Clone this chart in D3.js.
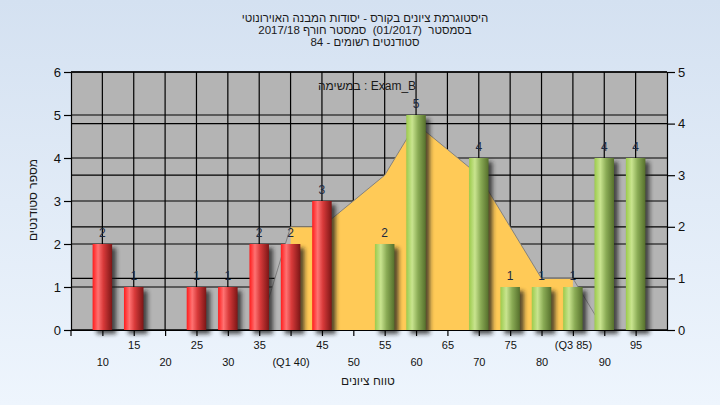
<!DOCTYPE html>
<html><head><meta charset="utf-8">
<script src="https://cdn.jsdelivr.net/npm/d3@7"></script>
<style>
html,body{margin:0;padding:0;}
svg{display:block;font-family:"Liberation Sans","DejaVu Sans",Arial,sans-serif;}
</style></head>
<body>
<svg id="c" width="720" height="405"></svg>
<script>
const categories = [10,15,20,25,30,35,40,45,50,55,60,65,70,75,80,85,90,95];
const counts     = [2,1,0,1,1,2,2,3,0,2,5,0,4,1,1,1,4,4];
const tickLabels = ["10","15","20","25","30","35","(Q1 40)","45","50","55","60","65","70","75","80","(Q3 85)","90","95"];
const curveX = [35,40,45,50,55,60,65,70,75,80,85,90,95];
const curveY = [0,2,2,2.5,3,4,3.5,3,2,1,1,0,0];
const q1 = 40, q3 = 85, passMark = 50;
const leftTicks = [0,1,2,3,4,5,6];
const rightTicks = [0,1,2,3,4,5];
const titleLines = ["היסטוגרמת ציונים בקורס - יסודות המבנה האוירונוטי",
                    "בסמסטר  (01/2017)  סמסטר חורף 2017/18",
                    "סטודנטים רשומים - 84"];
const subtitle = "במשימה : Exam_B";
const yTitle = "מספר סטודנטים";
const xTitle = "טווח ציונים";

const svg = d3.select("#c");
const defs = svg.append("defs");
const bg = defs.append("linearGradient").attr("id","bg").attr("x1",0).attr("y1",0).attr("x2",0).attr("y2",1);
bg.append("stop").attr("offset","0%").attr("stop-color","#d4e1f1");
bg.append("stop").attr("offset","100%").attr("stop-color","#eef5fd");
const gr = defs.append("linearGradient").attr("id","red").attr("x1",0).attr("x2",1).attr("y1",0).attr("y2",0);
[["0%","#ff1c1c"],["28%","#ff7272"],["55%","#d83a3a"],["100%","#7c1616"]].forEach(s=>gr.append("stop").attr("offset",s[0]).attr("stop-color",s[1]));
const gg = defs.append("linearGradient").attr("id","green").attr("x1",0).attr("x2",1).attr("y1",0).attr("y2",0);
[["0%","#9ccb4c"],["30%","#c9e48f"],["60%","#8aab55"],["100%","#56702c"]].forEach(s=>gg.append("stop").attr("offset",s[0]).attr("stop-color",s[1]));
const blur = defs.append("filter").attr("id","blur").attr("x","-50%").attr("y","-50%").attr("width","200%").attr("height","200%");
blur.append("feGaussianBlur").attr("stdDeviation",2);

svg.append("rect").attr("width",720).attr("height",405).attr("fill","url(#bg)");

const L = 71, R = 667, T = 72, B = 330;
const x = d3.scaleLinear().domain([5,100]).range([L,R]);
const yL = d3.scaleLinear().domain([0,6]).range([B,T]);
const yR = d3.scaleLinear().domain([0,5]).range([B,T]);

svg.append("rect").attr("x",L).attr("y",T).attr("width",R-L).attr("height",B-T).attr("fill","#b4b4b4");

const grid = svg.append("g").attr("stroke","#000").attr("stroke-width",1.2);
leftTicks.forEach(v=>grid.append("line").attr("x1",L).attr("x2",R).attr("y1",yL(v)).attr("y2",yL(v)));
rightTicks.forEach(v=>grid.append("line").attr("x1",L).attr("x2",R).attr("y1",yR(v)).attr("y2",yR(v)));
categories.forEach(c=>grid.append("line").attr("x1",x(c)).attr("x2",x(c)).attr("y1",T).attr("y2",B));

// distribution curve
const pts = curveX.map((c,i)=>[c,curveY[i]]);
const area = d3.area().x(d=>x(d[0])).y0(yR(0)).y1(d=>yR(d[1]));
const line = d3.line().x(d=>x(d[0])).y(d=>yR(d[1]));
svg.append("path").attr("d",area(pts)).attr("fill","#b6b6b6");
defs.append("clipPath").attr("id","iqr").append("rect")
  .attr("x",x(q1)).attr("y",T).attr("width",x(q3)-x(q1)).attr("height",B-T);
svg.append("path").attr("d",area(pts)).attr("fill","#ffca57").attr("clip-path","url(#iqr)");
svg.append("path").attr("d",line(pts)).attr("fill","none").attr("stroke","#7a7a7a").attr("stroke-width",0.9);

// bars
const bw = 19.5;
const bars = svg.append("g");
categories.forEach((c,i)=>{
  const v = counts[i];
  if(!v) return;
  const top = yL(v);
  bars.append("rect").attr("x",x(c)-bw/2+4).attr("y",top+4).attr("width",bw).attr("height",B-top)
    .attr("fill","#1e1e1e").attr("opacity",0.75).attr("filter","url(#blur)");
});
categories.forEach((c,i)=>{
  const v = counts[i];
  if(!v) return;
  const top = yL(v);
  bars.append("rect").attr("x",x(c)-bw/2).attr("y",top).attr("width",bw).attr("height",B-top)
    .attr("fill", c < passMark ? "url(#red)" : "url(#green)");
  bars.append("text").attr("x",x(c)).attr("y",top-7).attr("text-anchor","middle")
    .attr("font-size",12).attr("fill","#1c2940").text(v);
});

// axes
const fmt = d3.format("d");
const axL = svg.append("g").attr("transform",`translate(${L},0)`)
  .call(d3.axisLeft(yL).tickValues(leftTicks).tickFormat(fmt).tickSize(7).tickSizeOuter(0).tickPadding(3));
const axR = svg.append("g").attr("transform",`translate(${R},0)`)
  .call(d3.axisRight(yR).tickValues(rightTicks).tickFormat(fmt).tickSize(8).tickSizeOuter(0).tickPadding(3));
[axL,axR].forEach(a=>{
  a.selectAll("text").attr("font-size",13).attr("fill","#111").style("font-family","Liberation Sans, Arial, sans-serif");
  a.selectAll("line,path").attr("stroke","#000").attr("stroke-width",1.2);
});
const axB = svg.append("g").attr("transform",`translate(0,${B})`)
  .call(d3.axisBottom(x).tickValues(categories).tickSize(6).tickSizeOuter(0).tickFormat((d,i)=>tickLabels[i]));
axB.selectAll("line,path").attr("stroke","#000").attr("stroke-width",1.2);
axB.select(".domain").attr("d",`M${L-3},0.5H${R+8}`);
axB.selectAll("text").attr("font-size",11).attr("fill","#111")
  .attr("y",(d,i)=> i%2===1 ? 19 : 36).attr("dy","0");
axB.append("line").attr("x1",L).attr("x2",L).attr("y1",0).attr("y2",6).attr("stroke","#000").attr("stroke-width",1.2);
svg.append("line").attr("x1",L).attr("x2",R).attr("y1",T).attr("y2",T).attr("stroke","#000").attr("stroke-width",1.2);

// titles
titleLines.forEach((t,i)=>{
  svg.append("text").attr("x",365).attr("y",21.5+i*12).attr("text-anchor","middle")
    .attr("direction","rtl").style("unicode-bidi","embed").style("white-space","pre")
    .attr("font-size",11.5).attr("fill","#1a1a1a").text(t);
});
svg.append("text").attr("x",367).attr("y",90).attr("text-anchor","middle")
  .attr("font-size",12).attr("fill","#1a1a1a").text(subtitle);
svg.append("text").attr("transform","translate(37,200) rotate(-90)").attr("text-anchor","middle")
  .attr("font-size",12).attr("fill","#1a1a1a").attr("direction","rtl").text(yTitle);
svg.append("text").attr("x",368).attr("y",385).attr("text-anchor","middle")
  .attr("font-size",12).attr("fill","#1a1a1a").attr("direction","rtl").text(xTitle);
</script>
</body></html>
